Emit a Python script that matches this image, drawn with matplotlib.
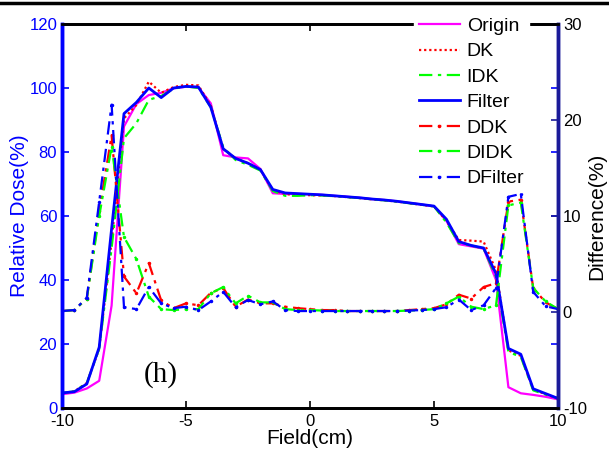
import matplotlib
matplotlib.use("Agg")
import matplotlib.pyplot as plt
from matplotlib.lines import Line2D

plt.rcParams['font.family'] = ['Liberation Sans', 'DejaVu Sans']
plt.rcParams['axes.unicode_minus'] = False

field = [-10, -9.5, -9, -8.5, -8, -7.5, -7, -6.5, -6, -5.5, -5, -4.5, -4, -3.5, -3,
         -2.5, -2, -1.5, -1, -0.5, 0, 0.5, 1, 1.5, 2, 2.5, 3, 3.5, 4, 4.5, 5,
         5.5, 6, 6.5, 7, 7.5, 8, 8.5, 9, 9.5, 10]

origin = [4.3, 4.8, 6.1, 8.5, 32, 88, 95, 97.8, 98.5, 99.9, 100.4, 100.2, 95.2, 79, 78.3,
          78, 74.7, 67.1, 66.9, 66.9, 66.8, 66.6, 66.3, 66.0, 65.7, 65.3, 65.0, 64.6, 64.1, 63.6, 63.0,
          58.5, 51.2, 50.5, 49.8, 40, 6.5, 4.6, 4.1, 3.5, 2.7]

dk = [4.7, 5.2, 7.8, 18.5, 52, 90.5, 94.7, 102, 98.5, 100.3, 101, 100.8, 94.5, 81, 78,
      76.5, 74.5, 68, 66.8, 66.6, 66.5, 66.4, 66.2, 65.9, 65.6, 65.2, 64.9, 64.5, 64.0, 63.5, 63.0,
      58.5, 52.5, 52.3, 52.0, 43, 18, 16.3, 5.8, 4.3, 3.0]

idk = [4.7, 5.2, 7.8, 18.5, 50, 84.3, 89, 96.3, 97.5, 99.8, 100.5, 100, 94, 81.5, 77.5,
       76, 74.2, 67.8, 66.3, 66.3, 66.5, 66.4, 66.2, 65.9, 65.6, 65.2, 64.9, 64.5, 64.0, 63.5, 63.0,
       58, 51.5, 50.8, 49.8, 41, 17.5, 16, 5.5, 4.2, 3.0]

filt = [4.7, 5.1, 7.5, 19, 56, 92, 95.5, 100, 97, 100, 100.5, 100.3, 94, 81, 78,
        76.5, 74.5, 68.3, 67.2, 67.0, 66.8, 66.6, 66.3, 66.0, 65.7, 65.3, 65.0, 64.6, 64.1, 63.6, 63.1,
        59, 52, 50.8, 50.0, 42, 18.6, 16.8, 6.0, 4.5, 3.0]

ddk = [0.1, 0.2, 1.4, 10.5, 18.4, 3.7, 1.95, 5.1, 1.2, 0.4, 0.9, 0.7, 2.0, 2.5, 0.55,
       1.3, 0.9, 0.9, 0.55, 0.4, 0.3, 0.2, 0.2, 0.1, 0.1, 0.1, 0.1, 0.1, 0.2, 0.3, 0.4,
       0.8, 1.8, 1.4, 2.6, 3.0, 11.5, 11.7, 2.5, 1.0, 0.3]

didk = [0.1, 0.2, 1.4, 10.0, 17.2, 7.8, 5.5, 1.6, 0.3, 0.2, 0.3, 0.3, 1.95, 2.6, 0.9,
        1.7, 1.0, 1.0, 0.3, 0.2, 0.2, 0.15, 0.1, 0.1, 0.1, 0.1, 0.1, 0.1, 0.15, 0.2, 0.3,
        0.9, 1.6, 0.55, 0.3, 0.7, 11.1, 11.4, 2.5, 1.1, 0.3]

dfilt = [0.1, 0.2, 1.5, 11.5, 21.6, 0.5, 0.3, 2.6, 0.9, 0.4, 0.55, 0.2, 1.1, 2.1, 0.5,
         1.25, 0.8, 1.1, 0.2, 0.1, 0.1, 0.1, 0.1, 0.1, 0.1, 0.1, 0.1, 0.1, 0.15, 0.2, 0.3,
         0.5, 1.3, 0.2, 0.7, 2.5, 12.0, 12.3, 2.1, 0.6, 0.3]

xticks = [-10, -5, 0, 5, 10]
dose_ticks = [0, 20, 40, 60, 80, 100, 120]
diff_ticks = [-10, 0, 10, 20, 30]

navy = (0.1, 0.1, 0.6)

fig = plt.figure(figsize=(6.09, 4.57), dpi=100)
ax = fig.add_axes([62/609, 1-408/457, (558-62)/609, (408-24)/457])
ax2 = ax.twinx()

dd = (6, 2.5, 1.5, 2.5)
h1, = ax.plot(field, origin, color=(1, 0, 1), lw=1.6, label='Origin')
h2, = ax.plot(field, dk, color='red', lw=1.6, ls=(0, (1, 1.3)), label='DK')
h3, = ax.plot(field, idk, color=(0, 1, 0), lw=1.6, ls=(0, dd), label='IDK')
h4, = ax.plot(field, filt, color='blue', lw=2.0, label='Filter')

h5, = ax2.plot(field, ddk, color='red', lw=1.6, ls=(0, dd), marker='.', ms=3, label='DDK')
h6, = ax2.plot(field, didk, color=(0, 1, 0), lw=1.6, ls=(0, dd), marker='.', ms=3, label='DIDK')
h7, = ax2.plot(field, dfilt, color='blue', lw=1.6, ls=(0, dd), marker='.', ms=3, label='DFilter')

ax.set_xlim(-10, 10)
ax.set_ylim(0, 120)
ax2.set_ylim(-10, 30)
ax.set_xticks(xticks)
ax.set_yticks(dose_ticks)
ax2.set_yticks(diff_ticks)

ax.tick_params(axis='x', direction='in', length=5, width=1.2, labelsize=12, colors='black', top=True, pad=4)
ax.tick_params(axis='y', direction='in', length=5, width=1.2, labelsize=12, colors='blue', right=True)
ax2.tick_params(axis='y', direction='in', length=5, width=1.2, labelsize=12, colors=navy, labelcolor='black')
for lab in ax.get_yticklabels():
    lab.set_color('blue')

for a in (ax, ax2):
    a.spines['top'].set_color('black')
    a.spines['top'].set_linewidth(2)
    a.spines['bottom'].set_color('black')
    a.spines['bottom'].set_linewidth(2)
    a.spines['left'].set_color('blue')
    a.spines['left'].set_linewidth(2.5)
    a.spines['right'].set_color(navy)
    a.spines['right'].set_linewidth(2.5)

ax.set_xlabel('Field(cm)', fontsize=15, labelpad=0)
ax.set_ylabel('Relative Dose(%)', fontsize=15, color='blue', labelpad=0)
ax2.set_ylabel('Difference(%)', fontsize=15, color='black', labelpad=0)

ax.text(-6.0, 10.6, '(h)', fontsize=21, family=['Liberation Serif', 'DejaVu Serif'],
        ha='center', va='center')

leg = ax2.legend(handles=[h1, h2, h3, h4, h5, h6, h7], loc='upper left',
                 bbox_to_anchor=(0.69, 1.055), fontsize=14, frameon=True, fancybox=False,
                 framealpha=1, edgecolor='white', handlelength=2.1, handletextpad=0.36,
                 labelspacing=0.4, borderpad=0.25)
leg.set_zorder(10)

fig.add_artist(Line2D([0, 1], [1-2.5/457, 1-2.5/457], color='black', lw=2.5,
                      transform=fig.transFigure))

fig.savefig('out.png', dpi=100)
